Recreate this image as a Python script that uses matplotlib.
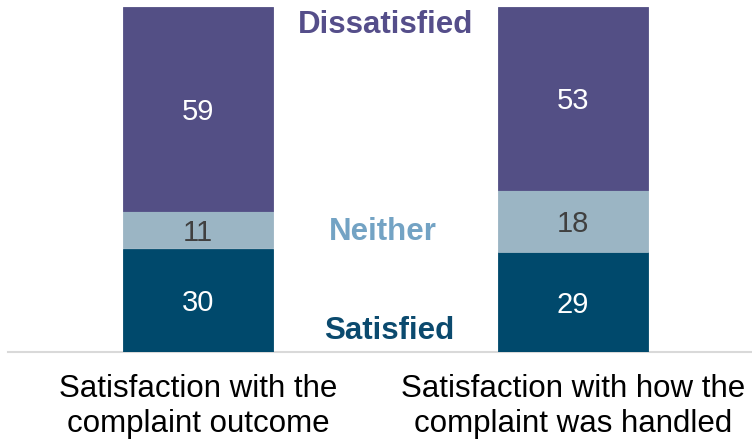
import matplotlib.pyplot as plt
import numpy as np

plt.rcParams['font.family'] = ['Liberation Sans', 'DejaVu Sans']

# 数据
categories = ['Satisfaction with the\ncomplaint outcome',
              'Satisfaction with how the\ncomplaint was handled']
satisfied = [30, 29]
neither = [11, 18]
dissatisfied = [59, 53]

c_sat = '#00496C'
c_nei = '#9BB5C4'
c_dis = '#534F85'

fig = plt.figure(figsize=(7.52, 4.43), dpi=100)
ax = fig.add_axes([8 / 752, 1 - 352 / 443, 1 - 8 / 752, 345 / 443])

x = np.arange(len(categories))
w = 0.4
sat = np.array(satisfied)
nei = np.array(neither)
dis = np.array(dissatisfied)

ax.bar(x, sat, w, color=c_sat, edgecolor=c_sat, linewidth=0.6)
ax.bar(x, nei, w, bottom=sat, color=c_nei, edgecolor=c_nei, linewidth=0.6)
ax.bar(x, dis, w, bottom=sat + nei, color=c_dis, edgecolor=c_dis, linewidth=0.6)

# 数值标签
fs = 21
for i in range(len(x)):
    ax.text(x[i], sat[i] / 2, str(sat[i]), ha='center', va='center_baseline',
            color='white', fontsize=fs)
    ax.text(x[i], sat[i] + nei[i] / 2, str(nei[i]), ha='center',
            va='center_baseline', color='#404040', fontsize=fs)
    ax.text(x[i], sat[i] + nei[i] + dis[i] / 2, str(dis[i]), ha='center',
            va='center_baseline', color='white', fontsize=fs)

# 系列名称
ax.text(0.501, 94.8, 'Dissatisfied', ha='center', va='center',
        color='#554E8A', fontsize=22.5, fontweight='bold')
ax.text(0.493, 34.8, 'Neither', ha='center', va='center',
        color='#73A3C4', fontsize=22.5, fontweight='bold')
ax.text(0.51, 6.2, 'Satisfied', ha='center', va='center',
        color='#0B4A6E', fontsize=22.5, fontweight='bold')

ax.set_xlim(-190 / 375, 1 + 179 / 375)
ax.set_ylim(0, 100)
ax.set_xticks(x)
ax.set_xticklabels(categories, fontsize=22.5, linespacing=1.2)
ax.tick_params(axis='x', length=0, pad=16)
ax.set_yticks([])
for s in ['top', 'left', 'right']:
    ax.spines[s].set_visible(False)
ax.spines['bottom'].set_color('#D9D9D9')
ax.spines['bottom'].set_linewidth(1.5)
ax.spines['bottom'].set_zorder(0.5)

fig.savefig('out.png', dpi=100)
